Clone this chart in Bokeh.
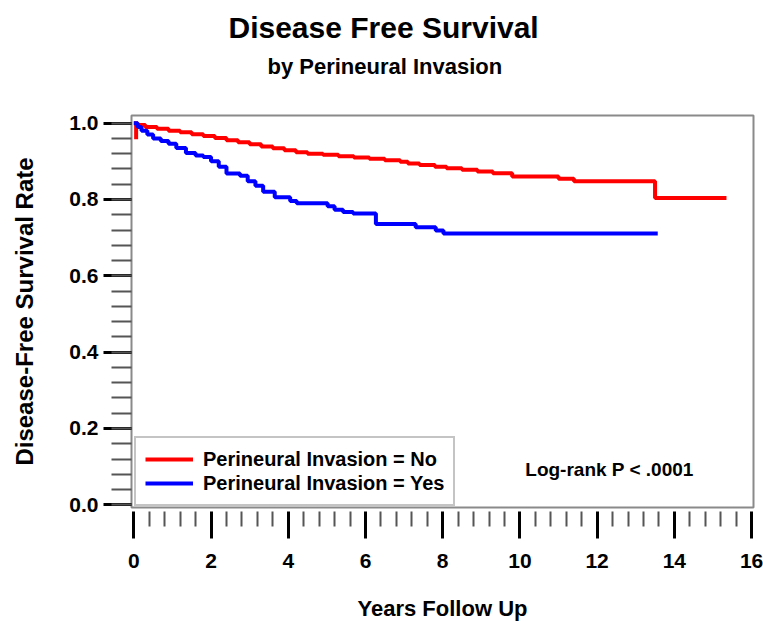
from bokeh.plotting import figure
from bokeh.models import (FixedTicker, PrintfTickFormatter, Legend, LegendItem,
                          Label, Range1d, ColumnDataSource, Title)
from bokeh.embed import file_html
from bokeh.resources import INLINE
import numpy as np

# ---- data ----
years_no = [0, 0.06, 0.06, 0.1, 0.3, 0.6, 0.9, 1.2, 1.5, 1.8, 2.1, 2.4, 2.7, 3.0, 3.3,
            3.6, 3.9, 4.2, 4.5, 4.9, 5.3, 5.7, 6.1, 6.5, 6.9, 7.1, 7.4, 7.8, 8.1,
            8.5, 8.9, 9.3, 9.8, 11.0, 11.4, 13.5, 15.35]
surv_no = [1.0, 0.958, 1.0, 0.995, 0.99, 0.985, 0.98, 0.976, 0.971, 0.966, 0.961,
           0.955, 0.950, 0.945, 0.939, 0.934, 0.929, 0.924, 0.920, 0.917, 0.913,
           0.910, 0.907, 0.903, 0.899, 0.894, 0.890, 0.886, 0.882, 0.878, 0.873,
           0.869, 0.860, 0.854, 0.848, 0.804, 0.804]

years_yes = [0, 0.1, 0.2, 0.35, 0.5, 0.7, 0.9, 1.1, 1.35, 1.6, 1.8, 2.0, 2.2, 2.4,
             2.75, 2.95, 3.15, 3.35, 3.65, 4.05, 4.22, 5.02, 5.2, 5.42, 5.68, 6.27,
             7.3, 7.82, 8.02, 13.57]
surv_yes = [1.0, 0.99, 0.98, 0.97, 0.96, 0.953, 0.946, 0.935, 0.922, 0.915, 0.911,
            0.900, 0.886, 0.868, 0.862, 0.848, 0.836, 0.820, 0.806, 0.796, 0.790,
            0.782, 0.773, 0.767, 0.763, 0.736, 0.727, 0.719, 0.711, 0.711]

x_ticks = [0, 2, 4, 6, 8, 10, 12, 14, 16]
y_ticks = [0.0, 0.2, 0.4, 0.6, 0.8, 1.0]

title_text = "Disease Free Survival"
subtitle_text = "by Perineural Invasion"
x_label = "Years Follow Up"
y_label = "Disease-Free Survival Rate"
legend_labels = ["Perineural Invasion = No", "Perineural Invasion = Yes"]
pvalue_text = "Log-rank P < .0001"

FONT = "Liberation Sans"

p = figure(width=763, height=623, output_backend="svg", toolbar_location=None,
           x_range=Range1d(-0.06, 16.05), y_range=Range1d(-0.007, 1.02),
           min_border_left=131, min_border_right=10, min_border_top=115,
           min_border_bottom=116)
p.background_fill_color = "white"
p.border_fill_color = "white"
p.outline_line_color = "#8a8a8a"
p.outline_line_width = 2
p.xgrid.visible = False
p.ygrid.visible = False

src_no = ColumnDataSource(dict(x=years_no, y=surv_no))
src_yes = ColumnDataSource(dict(x=years_yes, y=surv_yes))
r_no = p.step("x", "y", source=src_no, mode="after", line_color="#ff0000", line_width=4)
r_yes = p.step("x", "y", source=src_yes, mode="after", line_color="#0000ff", line_width=4)

# axes
minor_x = [float(v) for v in np.round(np.arange(0, 16.001, 0.4), 2) if v not in x_ticks]
minor_y = [float(v) for v in np.round(np.arange(0, 1.0001, 0.04), 2)]
xa = p.xaxis[0]
ya = p.yaxis[0]
xa.ticker = FixedTicker(ticks=x_ticks, minor_ticks=minor_x)
ya.ticker = FixedTicker(ticks=y_ticks, minor_ticks=minor_y)
ya.formatter = PrintfTickFormatter(format="%.1f")

for ax in (xa, ya):
    ax.axis_line_color = None
    ax.major_tick_line_color = "black"
    ax.major_tick_line_width = 3
    ax.minor_tick_line_color = "#555555"
    ax.minor_tick_line_width = 2
    ax.major_label_text_font = FONT
    ax.major_label_text_font_style = "bold"
    ax.major_label_text_font_size = "21px"
    ax.major_label_text_color = "black"
    ax.axis_label_text_font = FONT
    ax.axis_label_text_font_style = "bold"
    ax.axis_label_text_color = "black"

ya.major_tick_in = 0
ya.major_tick_out = 28
ya.minor_tick_in = 0
ya.minor_tick_out = 20
ya.major_label_standoff = 5
ya.axis_label = y_label
ya.axis_label_text_font_size = "24px"
ya.axis_label_standoff = 28

xa.major_tick_in = -4
xa.major_tick_out = 31
xa.minor_tick_in = -4
xa.minor_tick_out = 19
xa.major_label_standoff = 15
xa.axis_label = x_label
xa.axis_label_text_font_size = "22px"
xa.axis_label_standoff = 25

# legend
legend = Legend(items=[LegendItem(label=legend_labels[0], renderers=[r_no]),
                       LegendItem(label=legend_labels[1], renderers=[r_yes])],
                location=(3, 1), orientation="vertical",
                label_text_font=FONT, label_text_font_style="bold",
                label_text_font_size="20px", label_text_color="black",
                glyph_width=48, glyph_height=24, label_height=24, spacing=0,
                padding=9, margin=0, label_standoff=10,
                border_line_color="#8a8a8a", border_line_width=2,
                background_fill_color="white", background_fill_alpha=1.0)
p.add_layout(legend, "center")

p.add_layout(Label(x=12.32, y=0.0925, text=pvalue_text, text_align="center",
                   text_baseline="middle", text_font=FONT, text_font_style="bold",
                   text_font_size="19px", text_color="black"))

# titles, stacked outward from the frame: blank spacer, subtitle, main title
p.add_layout(Title(text=" ", standoff=24, text_font=FONT, text_font_size="10px",
                   text_color="white"), "above")
p.add_layout(Title(text=subtitle_text, align="left", offset=136, standoff=0,
                   text_font=FONT, text_font_style="bold", text_font_size="22px",
                   text_color="black"), "above")
p.add_layout(Title(text=title_text, align="left", offset=97, standoff=16,
                   text_font=FONT, text_font_style="bold", text_font_size="30px",
                   text_color="black"), "above")

open("out.html", "w").write(file_html(p, INLINE))
